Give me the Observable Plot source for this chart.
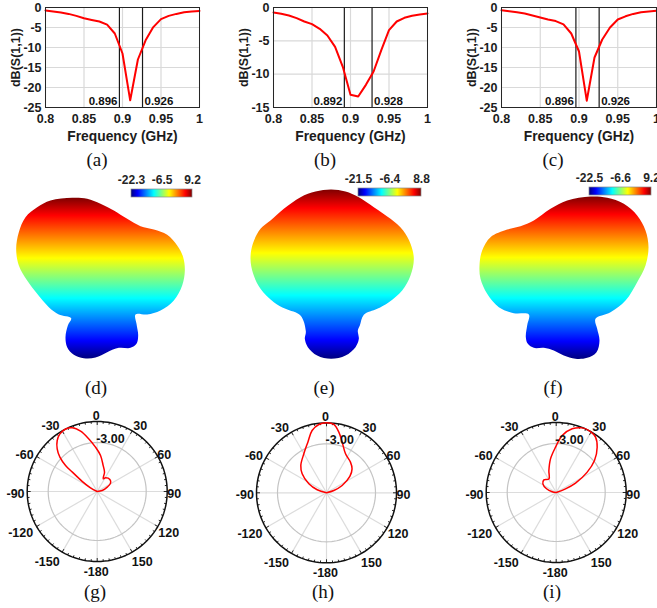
<!DOCTYPE html>
<html><head><meta charset="utf-8">
<script src="https://cdn.jsdelivr.net/npm/d3@7"></script>
<script src="https://cdn.jsdelivr.net/npm/@observablehq/plot@0.6"></script>
<style>
html,body{margin:0;background:#fff;}
#fig{position:relative;width:657px;height:608px;overflow:hidden;background:#fff;}
#fig svg{position:absolute;background:transparent;overflow:visible;}
.cap{position:absolute;font-family:"Liberation Serif",serif;font-size:19px;transform:translate(-50%,-50%);color:#111;white-space:nowrap;}
</style></head><body><div id="fig"></div>
<script>
const freq = [0.80,0.81,0.82,0.83,0.84,0.85,0.86,0.87,0.88,0.89,0.90,0.91,0.92,0.93,0.94,0.95,0.96,0.97,0.98,0.99,1.00];
const s11a = [-0.75,-1.0,-1.25,-1.6,-2.1,-2.7,-3.1,-3.5,-4.3,-6.5,-11.5,-23.2,-13,-8.2,-4.9,-2.9,-2.1,-1.6,-1.2,-1.0,-0.85];
const s11b = [-0.75,-0.95,-1.2,-1.6,-2.1,-2.5,-3.2,-4.2,-5.9,-8.9,-13.1,-13.35,-11.6,-9.6,-6.4,-3.4,-2.1,-1.55,-1.25,-1.05,-0.9];
const s11c = [-0.7,-0.95,-1.2,-1.5,-2.0,-2.5,-3.0,-3.4,-4.2,-6.5,-11,-23.3,-12.5,-8,-5,-3,-2.2,-1.6,-1.2,-1.0,-0.8];
const xTicks = [0.8,0.85,0.9,0.95,1];
const yTicksA = [0,-5,-10,-15,-20,-25];
const yTicksB = [0,-5,-10,-15];

const lobeD = [[215,97],[260,100],[300,115],[340,135],[380,160],[420,182],[460,192],[500,208],[530,240],[548,275],[553,315],[545,360],[520,405],[480,435],[440,447],[405,447],[408,475],[413,510],[408,535],[390,547],[355,547],[320,560],[285,576],[250,578],[220,568],[200,545],[195,515],[202,480],[212,458],[175,447],[145,425],[110,385],[80,345],[55,300],[47,250],[55,200],[75,155],[110,125],[150,105]];
const lobeE = [[332,72],[375,78],[415,95],[460,125],[510,160],[548,195],[570,235],[580,280],[570,330],[545,375],[505,410],[470,430],[430,448],[418,480],[412,495],[415,520],[405,545],[375,570],[332,580],[290,570],[262,545],[253,520],[256,497],[240,450],[195,430],[160,410],[120,370],[98,325],[90,280],[97,235],[120,190],[150,165],[190,130],[240,95],[285,78]];
const lobeF = [[450,93],[500,97],[550,115],[590,150],[615,195],[624,245],[615,300],[590,350],[555,405],[510,440],[465,460],[470,490],[477,525],[468,560],[440,577],[405,580],[370,570],[340,555],[310,547],[280,547],[262,535],[256,515],[260,480],[265,447],[220,443],[175,425],[140,385],[120,340],[117,300],[125,255],[150,215],[200,192],[240,182],[280,165],[330,130],[380,105]];

const gainD = [-22.3,-6.5,9.2];
const gainE = [-21.5,-6.4,8.8];
const gainF = [-22.5,-6.6,9.2];

const patG = [[-90,-10],[-61,-8.9],[-56,-7.4],[-52,-5.5],[-50.6,-4.15],[-47.4,-2.76],[-43.2,-1.65],[-38.1,-0.74],[-32.9,-0.2],[-26.8,0],[-21.4,-0.23],[-15.4,-1.06],[-9,-2.4],[-2.2,-3.66],[5.3,-4.83],[13,-6.2],[20.8,-7.05],[25.3,-8],[31.4,-7.7],[46.5,-7.5],[58,-7.75],[66.6,-8.44],[78.7,-9.27],[90,-10]];
const patH = [[-90,-10],[-72,-8.6],[-63,-7.17],[-52,-5.59],[-43.2,-4.64],[-30.2,-3.56],[-20.2,-2.29],[-13,-0.86],[-6.4,-0.18],[0,0],[6.1,-0.18],[11.5,-1.16],[17.2,-2.43],[26,-3.8],[38,-4.44],[46.9,-5],[55,-5.93],[64.9,-7.53],[72.3,-8.9],[90,-10]];
const patI = [[90,-10],[68.6,-8.57],[64.2,-6.93],[56.7,-4.7],[50.1,-2.87],[42.1,-1.27],[35.4,-0.3],[29,0],[21.9,-0.05],[14.1,-0.62],[6,-1.81],[-0.8,-3.52],[-9.6,-5.13],[-18.4,-6.69],[-28.2,-7.8],[-44.2,-7.48],[-57,-7.73],[-69,-8.52],[-80,-9.42],[-90,-10]];
const polarAngles = [0,30,60,90,120,150,180,-150,-120,-90,-60,-30];
const polarTexts = ["0","30","60","90","120","150","-180","-150","-120","-90","-60","-30"];
const polarNudge = [-1,4,-0.5,-1,4,6,-1,-11,-9,-3.7,-5,-7.7];

const jetStops = [[0,"#7f0000"],[0.11,"#ff0000"],[0.375,"#ffff00"],[0.5,"#80ff80"],[0.625,"#00ffff"],[0.89,"#0000ff"],[1,"#00007f"]];
const SANS = '"Liberation Sans",Arial,sans-serif';
const fig = document.getElementById("fig");

function place(svg,left,top){svg.style.left=left+"px";svg.style.top=top+"px";fig.appendChild(svg);}
function caption(t,x,y){const d=document.createElement("div");d.className="cap";d.textContent=t;d.style.left=x+"px";d.style.top=y+"px";fig.appendChild(d);}
function defs(id,vertical){
  return ()=>{
    const g=d3.create("svg:g");
    const lg=g.append("defs").append("linearGradient").attr("id",id)
      .attr("x1",0).attr("y1",0).attr("x2",vertical?0:1).attr("y2",vertical?1:0);
    const stops=vertical?jetStops:jetStops.map(([o,c])=>[1-o,c]).reverse();
    stops.forEach(([o,c])=>lg.append("stop").attr("offset",o).attr("stop-color",c));
    return g.node();
  };
}

function s11Plot(vals,yTicks,yMin,low,high,left,x0,x1){
  const rows=freq.map((f,i)=>({f,v:vals[i]}));
  const width=x1-left+1;
  const svg=Plot.plot({
    width,height:170,marginLeft:x0-left,marginRight:width-(x1-left),marginTop:7,marginBottom:63,
    style:{fontFamily:SANS,fontWeight:"bold",fontSize:"12.5px",color:"#1c1c1c",background:"transparent"},
    x:{domain:[0.8,1]},
    y:{domain:[yMin,0]},
    marks:[
      Plot.gridX(xTicks,{stroke:"#d9d9d9",strokeOpacity:1,strokeWidth:1.2}),
      Plot.gridY(yTicks,{stroke:"#d9d9d9",strokeOpacity:1,strokeWidth:1.2}),
      Plot.axisX({ticks:xTicks,tickSize:0,tickPadding:7,tickFormat:d=>String(d),label:null}),
      Plot.axisY({ticks:yTicks,tickSize:0,tickPadding:4,tickFormat:d=>String(d),label:null}),
      Plot.text(["Frequency (GHz)"],{frameAnchor:"bottom",textAnchor:"middle",lineAnchor:"middle",dy:29,fontSize:13.8,fill:"#1c1c1c"}),
      Plot.text(["dB(S(1,1))"],{frameAnchor:"left",rotate:-90,textAnchor:"middle",lineAnchor:"middle",dx:-30,fontSize:12.5,fill:"#1c1c1c"}),
      Plot.ruleX([low,high],{stroke:"#1a1a1a",strokeWidth:1.2}),
      Plot.line(rows,{x:"f",y:"v",stroke:"#ff0000",strokeWidth:2}),
      Plot.text([low],{x:d=>d,y:yMin*0.94,text:d=>d.toFixed(3),textAnchor:"end",dx:-2,fill:"#111",fontSize:11.5}),
      Plot.text([high],{x:d=>d,y:yMin*0.94,text:d=>d.toFixed(3),textAnchor:"start",dx:2,fill:"#111",fontSize:11.5}),
      Plot.frame({stroke:"#262626",strokeWidth:1})
    ]
  });
  place(svg,left,0);
}

function lobePlot(outline,id,left,top){
  const w=217,h=235;
  const svg=Plot.plot({
    width:w,height:h,margin:0,axis:null,
    style:{background:"transparent"},
    x:{domain:[0,w*3],range:[0,w],axis:null},
    y:{domain:[0,h*3],range:[0,h],axis:null},
    marks:[
      defs(id,true),
      Plot.line(outline,{x:"0",y:"1",curve:"catmull-rom-closed",fill:`url(#${id})`,stroke:"none"})
    ]
  });
  place(svg,left,top);
}

function colorBar(gain,id,x0,x1,top){
  const pad=20, labelH=16, barH=8;
  const svg=Plot.plot({
    width:x1-x0+2*pad,height:barH+labelH,marginLeft:pad,marginRight:pad,marginTop:labelH,marginBottom:0,
    style:{fontFamily:SANS,fontWeight:"bold",fontSize:"12px",color:"#262626",background:"transparent"},
    x:{domain:[gain[0],gain[2]],axis:null},
    y:{domain:[0,1],axis:null},
    marks:[
      defs(id,false),
      Plot.rect([gain],{x1:d=>d[0],x2:d=>d[2],y1:0,y2:1,fill:`url(#${id})`,stroke:"#8a8a8a",strokeWidth:0.7}),
      Plot.text(gain,{x:d=>d,frameAnchor:"top",dy:-14,text:d=>String(d),fill:"#262626"})
    ]
  });
  place(svg,x0-pad,top-labelH);
}

function polarPlot(pat,cx,cy,left,top){
  const w=220,h=208,R=70;
  const pxPerUnit=R/10;
  const pt=(deg,r)=>[r*Math.sin(deg*Math.PI/180),r*Math.cos(deg*Math.PI/180)];
  const ring=r=>d3.range(0,361,3).map(a=>pt(a,r));
  const rel=pat.map(([a,db])=>pt(a,db+10));
  const ticks=d3.range(0,360,5).map(a=>({a,len:a%30===0?0.5:0.3}));
  const labelR=78/pxPerUnit;
  const labels=polarAngles.map((a,i)=>({
    text:polarTexts[i],
    x:pt(a,labelR)[0]+polarNudge[i]/pxPerUnit,
    y:pt(a,labelR)[1]-2.5/pxPerUnit
  }));
  const svg=Plot.plot({
    width:w,height:h,margin:0,axis:null,
    style:{fontFamily:SANS,fontWeight:"bold",fontSize:"12.5px",background:"transparent"},
    x:{domain:[-10,10],range:[cx-left-R,cx-left+R],axis:null},
    y:{domain:[-10,10],range:[cy-top+R,cy-top-R],axis:null},
    marks:[
      Plot.link(polarAngles,{x1:0,y1:0,x2:a=>pt(a,10)[0],y2:a=>pt(a,10)[1],stroke:"#dcdcdc",strokeWidth:1.2}),
      Plot.line(ring(7),{x:"0",y:"1",stroke:"#c4c4c4",strokeWidth:1.2}),
      Plot.line(ring(10),{x:"0",y:"1",stroke:"#111",strokeWidth:1.5}),
      Plot.link(ticks,{x1:d=>pt(d.a,10)[0],y1:d=>pt(d.a,10)[1],x2:d=>pt(d.a,10-d.len)[0],y2:d=>pt(d.a,10-d.len)[1],stroke:"#111",strokeWidth:0.9}),
      Plot.line(rel,{x:"0",y:"1",curve:"catmull-rom",stroke:"#ff0000",strokeWidth:1.5}),
      Plot.text(labels,{x:"x",y:"y",text:"text",fill:"#111"}),
      Plot.text([-3],{x:0,y:d=>d+10.5,text:d=>d.toFixed(2),textAnchor:"start",fill:"#111",dx:-1})
    ]
  });
  place(svg,left,top);
}

s11Plot(s11a,yTicksA,-25,0.896,0.926,0,45,199);
s11Plot(s11b,yTicksB,-15,0.892,0.928,220,273,427);
s11Plot(s11c,yTicksA,-25,0.896,0.926,440,501,656);
[["(a)",97],["(b)",325],["(c)",553]].forEach(([t,x])=>caption(t,x,160));

lobePlot(lobeD,"jetD",0,165);
lobePlot(lobeE,"jetE",220,165);
lobePlot(lobeF,"jetF",440,165);
colorBar(gainD,"barD",131,192,189);
colorBar(gainE,"barE",358,421,188);
colorBar(gainF,"barF",589,651,187);
[["(d)",96],["(e)",324],["(f)",553]].forEach(([t,x])=>caption(t,x,388));

polarPlot(patG,96.7,491,0,400);
polarPlot(patH,326,492.3,220,400);
polarPlot(patI,555.7,492,440,400);
[["(g)",95],["(h)",323],["(i)",552]].forEach(([t,x])=>caption(t,x,592));
</script></body></html>
